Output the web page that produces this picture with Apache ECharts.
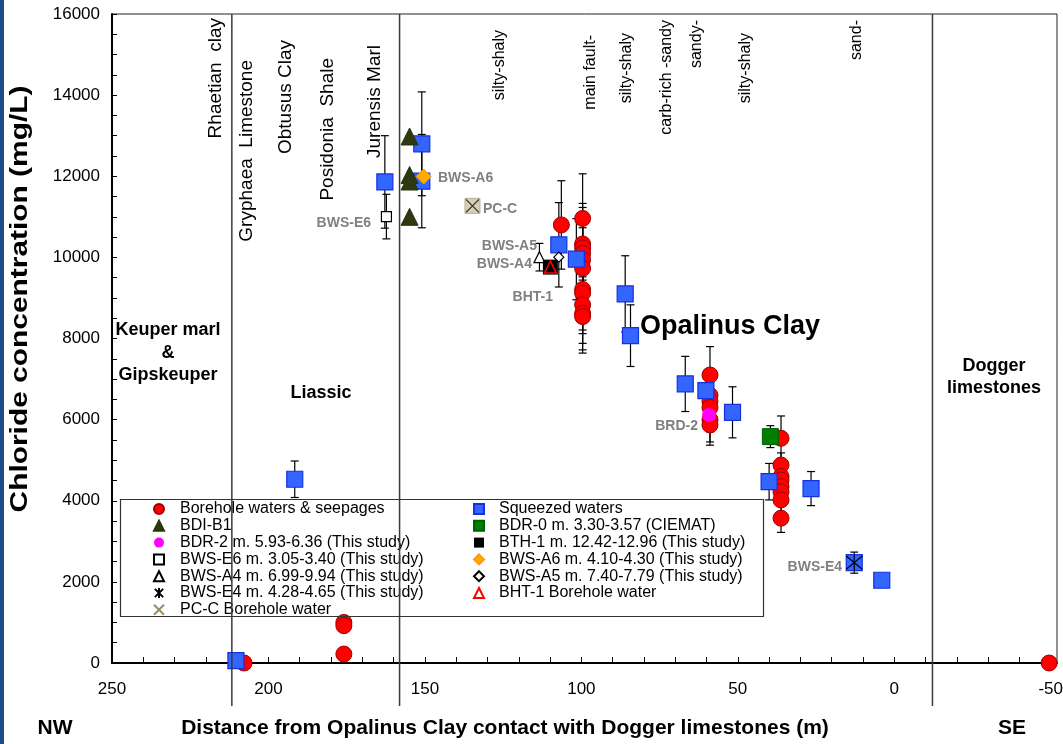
<!DOCTYPE html>
<html><head><meta charset="utf-8">
<script src="https://cdn.jsdelivr.net/npm/echarts@6/dist/echarts.min.js"></script>
<style>html,body{margin:0;padding:0;background:#fff}#c{width:1063px;height:744px}</style>
</head><body><div id="c"></div>
<script>
// ---------------- DATA ([distance m, chloride mg/L, error]) ----------------
const xTicks = [250, 200, 150, 100, 50, 0, -50];
const xMinorTicks = [250, 240, 230, 220, 210, 200, 190, 180, 170, 160, 150, 140, 130, 120, 110, 100,
  90, 80, 70, 60, 50, 40, 30, 20, 10, 0, -10, -20, -30, -40, -50];
const yTicks = [0, 2000, 4000, 6000, 8000, 10000, 12000, 14000, 16000];
const boundaries = [211.7, 158.1, -12.2];

const borehole = [
  [207.8, 0, 0], [175.9, 1000, 0], [175.9, 920, 0], [175.9, 220, 0], [106.4, 10800, 1090],
  [99.6, 10960, 1100], [99.6, 10330, 1000], [99.6, 10230, 1000], [99.6, 10100, 1000], [99.6, 9940, 1000],
  [99.6, 9730, 1000], [99.6, 9210, 1000], [99.6, 9120, 1000], [99.6, 8830, 950], [99.6, 8620, 900], [99.6, 8540, 900],
  [58.9, 7100, 700], [58.9, 6600, 600], [58.9, 6450, 600], [58.9, 6300, 600], [58.9, 6000, 550], [58.9, 5870, 500],
  [36.2, 5540, 550],
  [36.2, 4880, 300], [36.2, 4600, 300], [36.2, 4510, 300], [36.2, 4350, 300], [36.2, 4220, 300], [36.2, 4020, 300], [36.2, 3570, 350],
  [-49.5, 0, 0]
];
const squeezed = [
  [210.4, 60, 0], [191.6, 4530, 450], [162.8, 11860, 1140], [151, 12800, 1280], [151, 11880, 1150],
  [107.2, 10310, 1040], [101.6, 9955, 1000], [86, 9100, 940], [84.3, 8070, 760], [66.8, 6880, 680],
  [60.2, 6715, 0], [51.7, 6180, 630], [40, 4470, 450], [26.6, 4300, 420], [12.8, 2474, 260], [4, 2040, 150]
];
const bdiB1 = [[154.9, 12980, 0], [154.9, 12030, 0], [154.9, 11870, 0], [154.9, 11000, 0]];
const bdr2 = [[59.2, 6116, 0]];
const bwsE6 = [[162.3, 11006, 550]];
const bwsA4 = [[113.4, 10005, 340]];
const bwsE4 = [[12.8, 2474, 0]];
const pcC = [[134.8, 11270, 0]];
const bdr0 = [[39.6, 5581, 270]];
const bth1 = [[109.9, 9760, 0]];
const bwsA6 = [[150.4, 11993, 0]];
const bwsA5 = [[107.2, 10005, 0]];
const bht1 = [[109.9, 9760, 0]];

// ---------------- CHART ----------------
const FONT = "'Liberation Sans', Arial, sans-serif";
const chart = echarts.init(document.getElementById('c'), null, {renderer: 'canvas'});

const errData = [].concat(borehole, squeezed, bdiB1, bdr2, bwsE6, bwsA4, bwsE4, pcC, bdr0, bth1, bwsA6, bwsA5, bht1)
  .filter(d => d[2] > 0);

function renderErr(params, api) {
  const x = api.value(0), y = api.value(1), e = api.value(2);
  const t = api.coord([x, y + e]), b = api.coord([x, y - e]);
  const c = 4, st = {stroke: '#000', lineWidth: 1.2};
  return {type: 'group', children: [
    {type: 'line', shape: {x1: t[0], y1: t[1], x2: b[0], y2: b[1]}, style: st},
    {type: 'line', shape: {x1: t[0] - c, y1: t[1], x2: t[0] + c, y2: t[1]}, style: st},
    {type: 'line', shape: {x1: b[0] - c, y1: b[1], x2: b[0] + c, y2: b[1]}, style: st}
  ]};
}

const XPATH = 'path://M0,0L10,10M10,0L0,10';
const STARPATH = 'path://M0,0L10,10M10,0L0,10M5,-1L5,11';

function sc(name, data, symbol, size, itemStyle, z) {
  return {type: 'scatter', name, data, symbol, symbolSize: size, itemStyle: Object.assign({opacity: 1}, itemStyle),
    z: z, clip: false, emphasis: {disabled: true}, encode: {x: 0, y: 1}};
}

const series = [
  {type: 'custom', name: 'err', data: errData, renderItem: renderErr, encode: {x: 0, y: 1}, z: 1, clip: false, silent: true},
  sc('Borehole waters & seepages', borehole, 'circle', 16, {color: '#ff0000', borderColor: '#a00000', borderWidth: 1}, 2),
  sc('Squeezed waters', squeezed, 'rect', 16, {color: '#3366ff', borderColor: '#1530e0', borderWidth: 1.2}, 3),
  sc('BDI-B1', bdiB1, 'triangle', 17, {color: '#33370f', borderColor: '#1e3a08', borderWidth: 1}, 4),
  sc('BDR-2 m. 5.93-6.36 (This study)', bdr2, 'circle', 14, {color: '#ff00ff'}, 5),
  sc('BWS-E6 m. 3.05-3.40 (This study)', bwsE6, 'rect', 10, {color: '#fff', borderColor: '#000', borderWidth: 1.2}, 5),
  sc('BWS-A4 m. 6.99-9.94 (This study)', bwsA4, 'triangle', 11, {color: '#fff', borderColor: '#000', borderWidth: 1.2}, 5),
  sc('BWS-E4 m. 4.28-4.65 (This study)', bwsE4, STARPATH, 16, {color: 'none', borderColor: '#000', borderWidth: 1.2}, 6),
  sc('pcbg', pcC, 'rect', 15, {color: '#d6cfb4', borderColor: '#b8ae8e', borderWidth: 1}, 5),
  sc('PC-C Borehole water', pcC, XPATH, 13, {color: 'none', borderColor: '#333', borderWidth: 1.3}, 6),
  sc('BDR-0 m. 3.30-3.57 (CIEMAT)', bdr0, 'rect', 16, {color: '#008000', borderColor: '#006000', borderWidth: 1}, 3),
  sc('BTH-1 m. 12.42-12.96 (This study)', bth1, 'rect', 15, {color: '#000'}, 5),
  sc('BWS-A6 m. 4.10-4.30 (This study)', bwsA6, 'diamond', 15, {color: '#ffaa00', borderColor: '#ff9900', borderWidth: 1}, 6),
  sc('BWS-A5 m. 7.40-7.79 (This study)', bwsA5, 'diamond', 10, {color: '#fff', borderColor: '#000', borderWidth: 1.2}, 5),
  sc('BHT-1 Borehole water', bht1, 'triangle', 12, {color: 'none', borderColor: '#ff0000', borderWidth: 1.5}, 6)
];

const legText = {fontFamily: FONT, fontSize: 16, color: '#000', lineHeight: 16.8};
const legendL = ['Borehole waters & seepages', 'BDI-B1', 'BDR-2 m. 5.93-6.36 (This study)',
  'BWS-E6 m. 3.05-3.40 (This study)', 'BWS-A4 m. 6.99-9.94 (This study)', 'BWS-E4 m. 4.28-4.65 (This study)',
  {name: 'PC-C Borehole water', itemStyle: {borderColor: '#9a8d68'}}];
const legendR = ['Squeezed waters', 'BDR-0 m. 3.30-3.57 (CIEMAT)', 'BTH-1 m. 12.42-12.96 (This study)',
  'BWS-A6 m. 4.10-4.30 (This study)', 'BWS-A5 m. 7.40-7.79 (This study)', 'BHT-1 Borehole water'];

const vText = (t, x, y, size) => ({type: 'text', x, y, rotation: Math.PI / 2, z: 50,
  style: {text: t, font: `${size}px ${FONT}`, fill: '#000', align: 'right', verticalAlign: 'middle'}});
const gLabel = (t, x, y, align) => ({type: 'text', x, y, z: 50,
  style: {text: t, font: `bold 14px ${FONT}`, fill: '#808080', align, verticalAlign: 'middle'}});
const bText = (t, x, y, size) => ({type: 'text', x, y, z: 50,
  style: {text: t, font: `bold ${size}px ${FONT}`, fill: '#000', align: 'center', verticalAlign: 'middle'}});

const option = {
  animation: false,
  backgroundColor: '#fff',
  grid: {left: 112, right: 6, top: 14, bottom: 81, show: true, borderColor: '#222', borderWidth: 1,
    containLabel: false, outerBoundsMode: 'none'},
  xAxis: {
    type: 'value', inverse: true, min: -52, max: 250,
    axisLine: {onZero: false, lineStyle: {color: '#000', width: 2}},
    axisTick: {inside: true, length: 6, customValues: xMinorTicks, lineStyle: {color: '#000'}},
    splitLine: {show: false},
    axisLabel: {fontFamily: FONT, fontSize: 17, color: '#000', margin: 18, customValues: xTicks}
  },
  yAxis: {
    type: 'value', min: 0, max: 16000, interval: 2000,
    axisLine: {show: true, onZero: false, lineStyle: {color: '#000', width: 2}},
    axisTick: {inside: true, length: 5, lineStyle: {color: '#000'}},
    minorTick: {show: true, splitNumber: 4, length: 5, lineStyle: {color: '#000'}},
    splitLine: {show: false},
    axisLabel: {fontFamily: FONT, fontSize: 17, color: '#000', margin: 12, formatter: v => String(v)}
  },
  legend: [
    {data: legendL, orient: 'vertical', left: 151.5, top: 500.6, padding: 0, itemGap: 0,
      itemWidth: 10, itemHeight: 10, selectedMode: false, textStyle: Object.assign({padding: [0, 0, 0, 11]}, legText)},
    {data: legendR, orient: 'vertical', left: 471.5, top: 500.6, padding: 0, itemGap: 0,
      itemWidth: 10, itemHeight: 10, selectedMode: false, textStyle: Object.assign({padding: [0, 0, 0, 10]}, legText)}
  ],
  series: series
};
chart.setOption(option);

// graphic overlays computed through the axis scale
const px = v => chart.convertToPixel({xAxisIndex: 0}, v);
const g = [];
g.push({type: 'rect', shape: {x: 0, y: 0, width: 4, height: 744}, style: {fill: '#1f4b86'}, z: 100});
boundaries.forEach(b => g.push({type: 'line', z: 40,
  shape: {x1: px(b), y1: 14, x2: px(b), y2: 706}, style: {stroke: '#3a3a3a', lineWidth: 1.5}}));
g.push({type: 'rect', z: 40, shape: {x: 120.5, y: 499.5, width: 643, height: 117},
  style: {fill: 'none', stroke: '#333', lineWidth: 1.2}});
// formation labels (vertical)
[['Rhaetian  clay', 216, 18, 19], ['Gryphaea  Limestone', 247, 60, 19], ['Obtusus Clay', 286, 40, 19],
 ['Posidonia  Shale', 328, 58, 19], ['Jurensis Marl', 375, 45, 19],
 ['silty-shaly', 500, 30, 16], ['main fault-', 591, 35, 16], ['silty-shaly', 627, 33, 16],
 ['carb-rich -sandy', 667, 20, 16], ['sandy-', 697, 20, 16], ['silty-shaly', 746, 33, 16], ['sand-', 857, 20, 16]]
  .forEach(a => g.push(vText(a[0], a[1], a[2], a[3])));
// grey sample labels
g.push(gLabel('BWS-E6', 371, 223, 'right'));
g.push(gLabel('BWS-A6', 438, 178, 'left'));
g.push(gLabel('PC-C', 483, 209, 'left'));
g.push(gLabel('BWS-A5', 537, 246, 'right'));
g.push(gLabel('BWS-A4', 532, 264, 'right'));
g.push(gLabel('BHT-1', 553, 297, 'right'));
g.push(gLabel('BRD-2', 698, 426, 'right'));
g.push(gLabel('BWS-E4', 842, 567, 'right'));
// unit labels
g.push(bText('Opalinus Clay', 730, 327, 27));
g.push(bText('Keuper marl', 168, 330, 18));
g.push(bText('&', 168, 353, 18));
g.push(bText('Gipskeuper', 168, 375, 18));
g.push(bText('Liassic', 321, 393, 18));
g.push(bText('Dogger', 994, 366, 18));
g.push(bText('limestones', 994, 388, 18));
// axis titles
g.push(bText('NW', 55, 728, 21));
g.push(bText('Distance from Opalinus Clay contact with Dogger limestones (m)', 505, 728, 21));
g.push(bText('SE', 1012, 728, 21));
g.push({type: 'text', x: 21, y: 299, rotation: Math.PI / 2, scaleX: 1.3, z: 50,
  style: {text: 'Chloride concentration (mg/L)', font: `bold 23px ${FONT}`, fill: '#000', align: 'center', verticalAlign: 'middle'}});
chart.setOption({graphic: g});
</script></body></html>
